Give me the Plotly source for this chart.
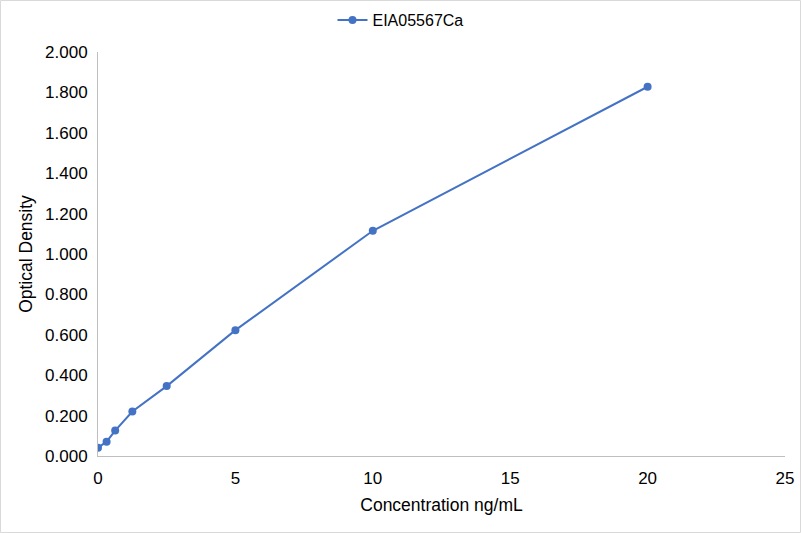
import plotly.graph_objects as go

conc = [0, 0.3125, 0.625, 1.25, 2.5, 5, 10, 20]
od = [0.041, 0.071, 0.126, 0.220, 0.346, 0.623, 1.115, 1.828]
series_name = "EIA05567Ca"

fig = go.Figure()
fig.add_trace(go.Scatter(
    x=conc, y=od, name=series_name,
    mode="lines+markers",
    line=dict(color="#4472C4", width=2),
    marker=dict(color="#4472C4", size=8),
))

base_font = dict(family="Liberation Sans, Arial", size=16, color="#000000")
tick_font = dict(family="Liberation Sans, Arial", size=17, color="#000000")
title_font = dict(family="Liberation Sans, Arial", size=17.5, color="#000000")

fig.update_layout(
    width=801, height=533,
    margin=dict(l=98, r=16, t=52, b=77, autoexpand=False),
    paper_bgcolor="white", plot_bgcolor="white",
    font=base_font,
    showlegend=True,
    legend=dict(orientation="h", x=0.5, xanchor="center", xref="container",
                y=1 - 20 / 533, yanchor="middle", yref="container",
                bgcolor="rgba(0,0,0,0)", font=dict(size=16)),
    xaxis=dict(
        range=[0, 25], tickvals=[0, 5, 10, 15, 20, 25],
        showgrid=False, zeroline=False,
        showline=True, linecolor="#BFBFBF", linewidth=1,
        ticks="", ticklabelstandoff=7, tickfont=tick_font,
        title=dict(text="Concentration ng/mL", standoff=11, font=title_font),
    ),
    yaxis=dict(
        range=[0, 2.0], tickvals=[i * 0.2 for i in range(11)],
        tickformat=".3f",
        showgrid=False, zeroline=False,
        showline=True, linecolor="#BFBFBF", linewidth=1,
        ticks="", ticklabelstandoff=6, tickfont=tick_font,
        title=dict(text="Optical Density", standoff=7, font=title_font),
    ),
    shapes=[dict(type="rect", xref="paper", yref="paper", x0=-97.5/687, x1=1+15.5/687,
                 y0=-76.5/404, y1=1+51.5/404, line=dict(color="#D9D9D9", width=1))],
)

# page body has a default margin; drop it so the chart sits at the window corner
fig.write_html("out.html", config={"displayModeBar": False},
               post_script="document.body.style.margin='0';")
